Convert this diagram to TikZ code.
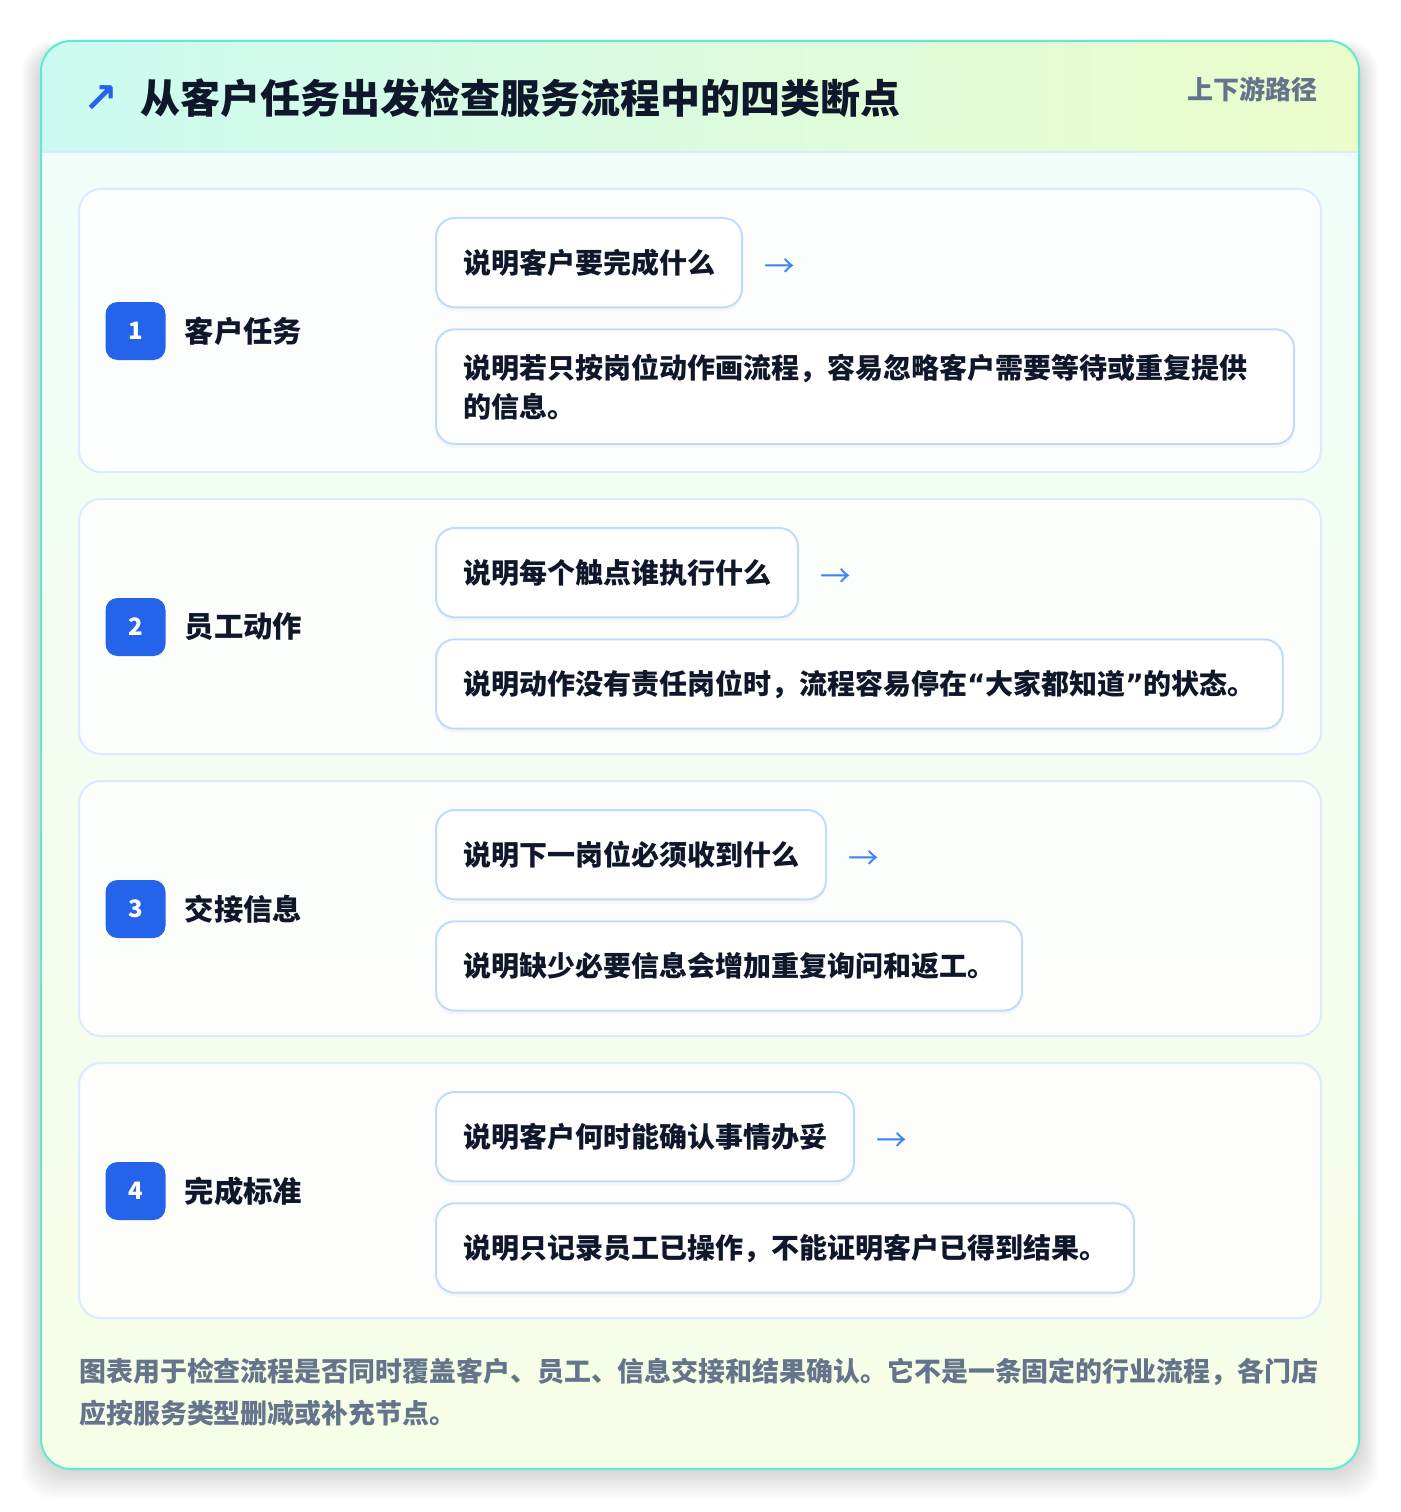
\documentclass[tikz,border=0pt]{standalone}
\usepackage{fontspec}
\setmainfont{Noto Sans CJK SC}
\newfontfamily\symfont{DejaVu Sans}
\usetikzlibrary{positioning,shadows}
\definecolor{cardline}{HTML}{5EEAD4}
\definecolor{headl}{HTML}{CCFBF1}
\definecolor{headr}{HTML}{ECFCCB}
\definecolor{bodytop}{HTML}{F0FDFA}
\definecolor{bodybot}{HTML}{F7FEE7}
\definecolor{rowline}{HTML}{DBEAFE}
\definecolor{boxline}{HTML}{BFDBFE}
\definecolor{ink}{HTML}{0F172A}
\definecolor{muted}{HTML}{64748B}
\definecolor{badgeblue}{HTML}{2563EB}
\definecolor{arrowblue}{HTML}{3B82F6}
\tikzset{rowcard/.style={draw=rowline, line width=1.5pt, fill=white, fill opacity=0.8, rounded corners=16.5pt}}
\tikzset{badge/.style={fill=badgeblue, rounded corners=9pt, minimum width=45pt, minimum height=43.5pt, inner sep=0, text=white, font=\bfseries\fontsize{18}{18}\selectfont}}
\tikzset{rowlabel/.style={inner sep=0, text=ink, font=\bfseries\fontsize{22}{22}\selectfont}}
\tikzset{box/.style={draw=boxline, line width=1.5pt, fill=white, rounded corners=14pt, inner xsep=20.25pt, minimum height=67.5pt, align=left, text=ink, font=\bfseries\fontsize{21}{29.25}\selectfont, drop shadow={opacity=0.05, shadow xshift=0pt, shadow yshift=-3pt}}}
\tikzset{nextmark/.style={inner sep=0, text=arrowblue, font=\fontsize{23}{23}\selectfont}}
\newcommand{\openq}{{\symfont “}}
\newcommand{\closeq}{{\symfont ”}}
\begin{document}
\begin{tikzpicture}[x=0.75pt, y=-0.75pt]
\useasboundingbox (0,0) rectangle (1400,1512);
\fill[white] (0,0) rectangle (1400,1512);
%outer card with soft shadow
\foreach \s in {1,...,20}
  \fill[black, opacity=0.007, rounded corners=24pt] (41-\s,41-\s/2+10) rectangle (1359+\s,1469+\s*1.5);
\shade[top color=bodytop, bottom color=bodybot, rounded corners=22.5pt] (41,41) rectangle (1359,1469);
\begin{scope}
\clip[rounded corners=22.5pt] (41,41) rectangle (1359,1469);
\shade[left color=headl, right color=headr] (41,41) rectangle (1359,152);
\end{scope}
\draw[rowline, line width=1.5pt] (41,152)--(1359,152);
\draw[cardline, line width=1.5pt, rounded corners=22.5pt] (41,41) rectangle (1359,1469);
%header
\node (icon) at (101,99)[inner sep=0, text=badgeblue, font=\symfont\bfseries\fontsize{31}{31}\selectfont]{↗};
\node (title) at (140,98)[anchor=west, inner sep=0, text=ink, font=\bfseries\fontsize{30}{30}\selectfont]{从客户任务出发检查服务流程中的四类断点};
\node (tag) at (1318,89)[anchor=east, inner sep=0, text=muted, font=\bfseries\fontsize{19.5}{19.5}\selectfont]{上下游路径};
%row 1
\draw[rowcard] (79,189) rectangle (1321,472);
\node (b1) at (135.5,331)[badge]{1};
\node (l1) [rowlabel, right=14pt of b1]{客户任务};
\node (q1a) at (435,217)[box, anchor=north west, minimum height=67pt]{说明客户要完成什么};
\node (m1) [nextmark, right=16pt of q1a, yshift=-4pt]{→};
\node (q1b) [box, below=15pt of q1a.south west, anchor=north west, text width=603pt, minimum height=86pt]{说明若只按岗位动作画流程，容易忽略客户需要等待或重复提供\\的信息。};
%row 2
\draw[rowcard] (79,499) rectangle (1321,754);
\node (b2) at (135.5,627)[badge]{2};
\node (l2) [rowlabel, right=14pt of b2]{员工动作};
\node (q2a) at (435,527)[box, anchor=north west, minimum height=67pt]{说明每个触点谁执行什么};
\node (m2) [nextmark, right=16pt of q2a, yshift=-4pt]{→};
\node (q2b) [box, below=15pt of q2a.south west, anchor=north west, minimum height=67pt]{说明动作没有责任岗位时，流程容易停在\openq 大家都知道\closeq 的状态。};
%row 3
\draw[rowcard] (79,781) rectangle (1321,1036);
\node (b3) at (135.5,909)[badge]{3};
\node (l3) [rowlabel, right=14pt of b3]{交接信息};
\node (q3a) at (435,809)[box, anchor=north west, minimum height=67pt]{说明下一岗位必须收到什么};
\node (m3) [nextmark, right=16pt of q3a, yshift=-4pt]{→};
\node (q3b) [box, below=15pt of q3a.south west, anchor=north west, minimum height=67pt]{说明缺少必要信息会增加重复询问和返工。};
%row 4
\draw[rowcard] (79,1063) rectangle (1321,1318);
\node (b4) at (135.5,1191)[badge]{4};
\node (l4) [rowlabel, right=14pt of b4]{完成标准};
\node (q4a) at (435,1091)[box, anchor=north west, minimum height=67pt]{说明客户何时能确认事情办妥};
\node (m4) [nextmark, right=16pt of q4a, yshift=-4pt]{→};
\node (q4b) [box, below=15pt of q4a.south west, anchor=north west, minimum height=67pt]{说明只记录员工已操作，不能证明客户已得到结果。};
%footer note
\node (note) at (79,1392)[anchor=west, align=left, inner sep=0, text=muted, font=\bfseries\fontsize{20.2}{31.5}\selectfont]{图表用于检查流程是否同时覆盖客户、员工、信息交接和结果确认。它不是一条固定的行业流程，各门店\\应按服务类型删减或补充节点。};
\end{tikzpicture}
\end{document}
